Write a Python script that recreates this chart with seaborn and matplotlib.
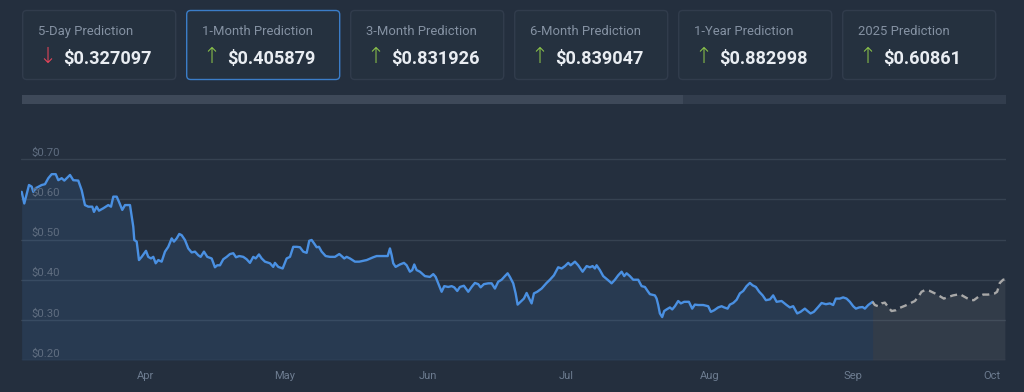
import numpy as np
import pandas as pd
import matplotlib
matplotlib.use("Agg")
import matplotlib.pyplot as plt
import matplotlib.dates as mdates
from matplotlib.patches import FancyBboxPatch, Rectangle
import seaborn as sns

# ---------------- data ----------------
card_titles = ["5-Day Prediction", "1-Month Prediction", "3-Month Prediction",
               "6-Month Prediction", "1-Year Prediction", "2025 Prediction"]
card_values = ["0.327097", "0.405879", "0.831926", "0.839047", "0.882998", "0.60861"]
card_up = [False, True, True, True, True, True]
selected_card = 1

y_ticks = [0.20, 0.30, 0.40, 0.50, 0.60, 0.70]

start_date = "2024-03-05"
end_day = 213.1

hist_day = [0.15, 0.71, 1.73, 2.31, 2.66, 3.18, 4.48, 5.19, 5.91, 6.64, 7.51, 8.07, 8.80, 9.37,
            10.60, 11.31, 12.39, 13.13, 13.84, 14.56, 15.42, 15.79, 16.37, 16.87, 17.80, 18.88,
            19.47, 19.97, 20.70, 21.20, 21.91, 22.50, 23.58, 24.29, 24.51, 25.03, 25.52, 26.11,
            27.04, 27.53, 28.12, 28.62, 29.14, 29.70, 30.43, 31.15, 31.86, 32.60, 33.09, 33.68,
            34.24, 34.76, 35.47, 36.19, 36.92, 37.64, 38.35, 38.87, 39.58, 40.30, 41.25, 41.96,
            42.46, 43.05, 43.76, 44.50, 45.21, 45.93, 46.51, 47.22, 48.09, 48.82, 49.53, 50.25,
            50.77, 51.48, 52.07, 52.78, 53.86, 54.57, 54.94, 55.66, 56.61, 57.47, 58.19, 58.90,
            59.64, 60.35, 61.06, 61.80, 62.36, 62.88, 63.44, 63.96, 64.46, 65.04, 65.91, 66.84,
            67.92, 68.85, 69.37, 69.93, 70.45, 71.17, 72.25, 73.18, 74.04, 74.78, 76.21, 76.94,
            77.66, 78.74, 79.33, 79.82, 80.19, 80.53, 81.05, 81.98, 82.85, 83.43, 84.14, 84.64,
            85.08, 85.59, 86.31, 87.39, 88.47, 89.19, 89.71, 90.27, 91.00, 91.57, 92.43, 93.17,
            93.73, 94.38, 94.96, 95.82, 96.76, 97.49, 98.20, 98.92, 99.44, 100.15, 101.08, 101.82,
            102.53, 103.24, 103.98, 104.69, 105.28, 105.77, 106.49, 107.01, 107.44, 108.09, 108.80,
            109.39, 109.95, 110.47, 110.97, 111.68, 112.63, 113.71, 114.43, 115.29, 116.22, 116.96,
            117.67, 118.39, 118.91, 119.84, 120.55, 121.50, 122.37, 123.08, 123.67, 124.16, 124.53,
            125.24, 125.96, 127.41, 127.77, 128.49, 129.20, 129.94, 130.50, 131.02, 131.73, 132.45,
            133.53, 134.27, 134.98, 135.56, 136.06, 137.14, 137.51, 137.86, 138.22, 138.72, 139.15,
            139.67, 140.39, 140.89, 141.47, 142.18, 142.76, 143.48, 144.50, 145.21, 145.79, 146.51,
            147.59, 148.67, 149.25, 149.97, 150.83, 151.57, 152.13, 152.87, 153.36, 154.08, 154.81,
            155.53, 156.25, 156.97, 157.69, 158.28, 158.99, 159.71, 160.45, 161.16, 162.03, 162.73,
            163.47, 164.55, 165.63, 166.34, 167.06, 167.93, 168.65, 169.58, 170.17, 170.82, 171.53,
            172.46, 173.20, 174.13, 175.00, 175.71, 176.29, 177.16, 177.87, 178.61, 179.32, 180.04,
            180.62, 181.34, 182.07, 182.57, 183.29, 184.23]
hist_price = [0.619, 0.590, 0.636, 0.632, 0.619, 0.628, 0.636, 0.638, 0.653, 0.663, 0.663, 0.648,
              0.653, 0.647, 0.661, 0.648, 0.647, 0.623, 0.586, 0.582, 0.582, 0.569, 0.582, 0.572,
              0.578, 0.586, 0.582, 0.607, 0.607, 0.594, 0.574, 0.586, 0.586, 0.532, 0.499, 0.495,
              0.449, 0.457, 0.472, 0.457, 0.453, 0.457, 0.441, 0.449, 0.445, 0.470, 0.482, 0.503,
              0.495, 0.503, 0.514, 0.511, 0.499, 0.478, 0.468, 0.470, 0.461, 0.457, 0.470, 0.457,
              0.453, 0.431, 0.436, 0.436, 0.451, 0.457, 0.464, 0.466, 0.456, 0.459, 0.457, 0.451,
              0.442, 0.457, 0.453, 0.463, 0.453, 0.445, 0.441, 0.432, 0.442, 0.432, 0.428, 0.453,
              0.457, 0.482, 0.482, 0.481, 0.470, 0.467, 0.497, 0.499, 0.490, 0.481, 0.482, 0.470,
              0.459, 0.457, 0.457, 0.464, 0.459, 0.453, 0.457, 0.453, 0.445, 0.445, 0.447, 0.449,
              0.456, 0.459, 0.459, 0.459, 0.459, 0.478, 0.461, 0.441, 0.432, 0.438, 0.442, 0.436,
              0.420, 0.424, 0.438, 0.424, 0.420, 0.409, 0.407, 0.414, 0.407, 0.391, 0.370, 0.384,
              0.382, 0.384, 0.381, 0.372, 0.382, 0.385, 0.370, 0.382, 0.392, 0.389, 0.381, 0.389,
              0.391, 0.391, 0.378, 0.395, 0.400, 0.409, 0.416, 0.407, 0.391, 0.366, 0.338, 0.345,
              0.353, 0.367, 0.353, 0.341, 0.366, 0.370, 0.378, 0.392, 0.400, 0.411, 0.431, 0.428,
              0.434, 0.442, 0.436, 0.445, 0.436, 0.420, 0.434, 0.431, 0.434, 0.428, 0.436, 0.424,
              0.409, 0.395, 0.391, 0.400, 0.411, 0.420, 0.409, 0.416, 0.409, 0.400, 0.400, 0.384,
              0.382, 0.372, 0.364, 0.361, 0.353, 0.337, 0.316, 0.307, 0.322, 0.326, 0.331, 0.326,
              0.334, 0.347, 0.341, 0.345, 0.345, 0.328, 0.338, 0.337, 0.337, 0.334, 0.320, 0.324,
              0.331, 0.334, 0.331, 0.328, 0.338, 0.342, 0.350, 0.366, 0.372, 0.384, 0.392, 0.386,
              0.382, 0.370, 0.361, 0.349, 0.351, 0.361, 0.345, 0.347, 0.337, 0.331, 0.334, 0.316,
              0.320, 0.328, 0.322, 0.316, 0.320, 0.332, 0.342, 0.339, 0.341, 0.337, 0.353, 0.353,
              0.356, 0.353, 0.345, 0.334, 0.328, 0.331, 0.332, 0.328, 0.337, 0.345]

fc_day = [184.23, 184.72, 185.44, 186.17, 186.89, 187.60, 188.34, 189.27, 190.14, 191.22, 192.30,
          193.38, 194.09, 194.83, 195.54, 196.62, 197.71, 198.79, 199.65, 200.58, 201.67, 203.11,
          204.19, 205.28, 206.14, 207.07, 208.15, 209.23, 210.68, 211.18, 211.76, 212.48, 212.85]
fc_price = [0.345, 0.337, 0.334, 0.341, 0.343, 0.332, 0.322, 0.324, 0.330, 0.335, 0.341,
            0.347, 0.357, 0.370, 0.374, 0.372, 0.366, 0.359, 0.353, 0.357, 0.361, 0.364,
            0.357, 0.350, 0.349, 0.357, 0.363, 0.363, 0.366, 0.370, 0.392, 0.400, 0.401]

# ---------------- style ----------------
BG = "#242f3e"
CARD = "#25313f"
CARD_EDGE = "#313c4c"
SEL_EDGE = "#3b7dc8"
TITLE_C = "#8592a3"
VALUE_C = "#e9edf2"
UP_C = "#8bc34a"
DOWN_C = "#e8455a"
LINE_C = "#4a90e2"
FC_C = "#a8a8a8"
GRID_C = "#364251"
YTICK_C = "#5f6d80"
XTICK_C = "#6d7c90"

sns.set_theme(style="dark")
plt.rcParams["font.family"] = ["Roboto", "DejaVu Sans"]

W, H = 1024, 392
fig = plt.figure(figsize=(W / 100, H / 100), dpi=100, facecolor=BG)

# overlay in pixel coordinates for cards and scroll bar
over = fig.add_axes([0, 0, 1, 1], zorder=0)
over.set_xlim(0, W)
over.set_ylim(H, 0)
over.axis("off")
over.patch.set_alpha(0)

for i, (t, v, up) in enumerate(zip(card_titles, card_values, card_up)):
    left = 22.7 + i * 164.0
    edge = SEL_EDGE if i == selected_card else CARD_EDGE
    over.add_patch(FancyBboxPatch((left, 10.5), 153, 69, boxstyle="round,pad=0,rounding_size=4",
                                  fc=CARD, ec=edge, lw=1.0))
    over.text(left + 15.6, 34.5, t, fontsize=9.4, color=TITLE_C, va="baseline", ha="left")
    over.text(left + 24.8, 56.5, "\u2191" if up else "\u2193", fontsize=15.5,
              color=UP_C if up else DOWN_C, ha="center", va="center",
              family=["DejaVu Sans"], fontweight="light")
    over.text(left + 40, 63.5, "$" + v, fontsize=13.1, fontweight="bold", color=VALUE_C,
              va="baseline", ha="left")

# scroll bar
over.add_patch(Rectangle((22, 95), 984, 9, fc="#323d4d", ec="none"))
over.add_patch(Rectangle((22, 95), 661, 9, fc="#3e4959", ec="none"))

# ---------------- chart ----------------
ax = fig.add_axes([21 / W, 1 - 360 / H, 985 / W, (360 - 139.25) / H], zorder=1)
ax.set_facecolor("none")

t0 = pd.Timestamp(start_date)
hist_dates = t0 + pd.to_timedelta(hist_day, unit="D")
fc_dates = t0 + pd.to_timedelta(fc_day, unit="D")

for v in y_ticks:
    ax.axhline(v, color=GRID_C, lw=1.0, zorder=0)

ax.fill_between(hist_dates, hist_price, 0.2, color=LINE_C, alpha=0.12, lw=0, zorder=1)
ax.fill_between(fc_dates, fc_price, 0.2, color=FC_C, alpha=0.11, lw=0, zorder=1)

sns.lineplot(x=hist_dates, y=hist_price, ax=ax, color=LINE_C, lw=1.7, zorder=3)
sns.lineplot(x=fc_dates, y=fc_price, ax=ax, color=FC_C, lw=1.7, linestyle=(0, (3, 2)), zorder=3)

ax.set_xlim(t0, t0 + pd.Timedelta(days=end_day))
ax.set_ylim(0.2, 0.75)
ax.set_yticks([])
ax.set_xlabel("")
ax.set_ylabel("")
for s in ax.spines.values():
    s.set_visible(False)
ax.grid(False)

ax.xaxis.set_major_locator(mdates.MonthLocator())
ax.xaxis.set_major_formatter(mdates.DateFormatter("%b"))
ax.tick_params(axis="x", length=0, pad=8, labelsize=8, labelcolor=XTICK_C)

for v in y_ticks:
    ax.annotate(f"${v:.2f}", xy=(0.011, v), xycoords=("axes fraction", "data"),
                xytext=(0, 2.4), textcoords="offset points", va="baseline", ha="left",
                fontsize=8.2, color=YTICK_C, zorder=4)

fig.savefig("out.png", dpi=100, facecolor=BG)
